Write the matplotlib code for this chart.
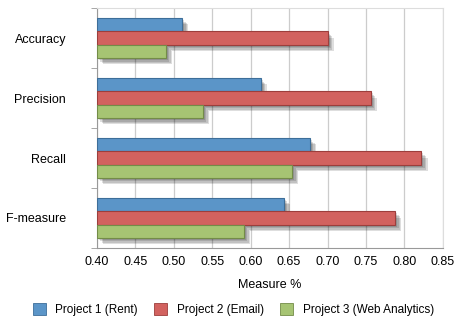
import matplotlib
matplotlib.use('Agg')
import matplotlib.pyplot as plt
import matplotlib.patheffects as pe
from matplotlib.patches import Patch
import numpy as np

plt.rcParams['font.family'] = ['Liberation Sans', 'DejaVu Sans']

measures = ['Accuracy', 'Precision', 'Recall', 'F-measure']
projects = ['Project 1 (Rent)', 'Project 2 (Email)', 'Project 3 (Web Analytics)']
rent = [0.511, 0.613, 0.677, 0.643]
email = [0.700, 0.756, 0.822, 0.788]
web = [0.490, 0.538, 0.654, 0.591]

colors = ['#5b95c8', '#d2625f', '#a6c473']
edges = ['#3d6e99', '#9c3e3c', '#738c48']

fig = plt.figure(figsize=(4.55, 3.25), dpi=100)
ax = fig.add_axes([0.2125, 0.237, 0.761, 0.738])

y = np.arange(len(measures))
h = 0.222
# soft drop shadow built from a few stacked offsets
shadow = [pe.SimplePatchShadow(offset=(d, -d), shadow_rgbFace='black', alpha=0.13)
          for d in (1.5, 2.5, 3.5, 4.5)] + [pe.Normal()]
for k, vals in enumerate([rent, email, web]):
    ax.barh(y + (k - 1) * h, np.array(vals) - 0.40, left=0.40, height=h,
            color=colors[k], edgecolor=edges[k], linewidth=0.8,
            path_effects=shadow, zorder=3)

ax.set_xlim(0.40, 0.85)
ax.set_ylim(len(measures) - 0.5, -0.5)
ax.set_xticks(np.arange(0.40, 0.851, 0.05))
ax.set_xticklabels(['%.2f' % v for v in np.arange(0.40, 0.851, 0.05)], fontsize=9)
ax.set_yticks(y)
ax.set_yticklabels(measures, fontsize=9)
ax.tick_params(axis='y', length=0, pad=22)
ax.tick_params(axis='x', length=0, pad=6)
ax.set_yticks(np.arange(-0.5, len(measures), 1), minor=True)
ax.tick_params(axis='y', which='minor', length=4, color='#999999')
ax.grid(axis='x', color='#cccccc', linewidth=0.9, zorder=0)
for s in ['top', 'right']:
    ax.spines[s].set_color('#dddddd')
for s in ['left', 'bottom']:
    ax.spines[s].set_color('#999999')
ax.set_xlabel('Measure %', fontsize=9, labelpad=8)

handles = [Patch(facecolor=colors[k], edgecolor=edges[k], linewidth=0.6)
           for k in range(3)]
fig.legend(handles, projects, loc='lower center', bbox_to_anchor=(0.513, -0.005),
           ncol=3, frameon=False, fontsize=8.5, handlelength=1.1, handleheight=1.1,
           columnspacing=1.4, handletextpad=0.8)

plt.savefig('out.png', dpi=100)
